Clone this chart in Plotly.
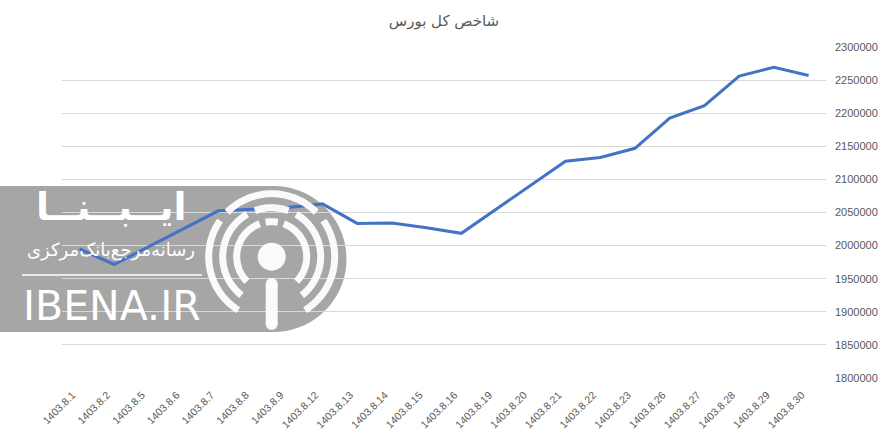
import math
import plotly.graph_objects as go

# ---- data ----
dates = ["1403.8.1", "1403.8.2", "1403.8.5", "1403.8.6", "1403.8.7", "1403.8.8",
         "1403.8.9", "1403.8.12", "1403.8.13", "1403.8.14", "1403.8.15", "1403.8.16",
         "1403.8.19", "1403.8.20", "1403.8.21", "1403.8.22", "1403.8.23", "1403.8.26",
         "1403.8.27", "1403.8.28", "1403.8.29", "1403.8.30"]
index_values = [1995000, 1971500, 1998500, 2025500, 2052500, 2055000,
                2057500, 2063000, 2033500, 2034000, 2027000, 2018500,
                2055000, 2091000, 2127500, 2133000, 2147000, 2192500,
                2211500, 2256000, 2269500, 2257000]
y_ticks = [1800000, 1850000, 1900000, 1950000, 2000000, 2050000,
           2100000, 2150000, 2200000, 2250000, 2300000]
title_text = "شاخص کل بورس"

# ---- layout geometry (pixels) ----
W, H = 890, 440
L, R, T, B = 62, 826, 47, 378
PW, PH = R - L, B - T


def px(x, y):
    return (x - L) / PW, (B - y) / PH


fig = go.Figure()
fig.add_trace(go.Scatter(x=dates, y=index_values, mode="lines",
                         line=dict(color="#4472C4", width=3), hoverinfo="x+y"))

shapes = []
annotations = []

# watermark background (grey stadium)
cx, cy, rr = 273.5, 259, 73
pts = [px(0, cy - rr), px(cx, cy - rr)]
for a in range(90, -91, -5):
    t = math.radians(a)
    pts.append(px(cx + rr * math.cos(t), cy - rr * math.sin(t)))
pts.append(px(0, cy + rr))
path = "M " + " L ".join(f"{x:.5f},{y:.5f}" for x, y in pts) + " Z"
shapes.append(dict(type="path", xref="paper", yref="paper", path=path,
                   fillcolor="#A6A6A6", line=dict(width=0), layer="between"))

# broadcast icon
ic_x, ic_y = 271.7, 256.7
rings = {
    63: [(-58, 35), (45, 135), (145, 238)],
    49: [(-52, 60), (70, 110), (120, 232)],
    35: [(-45, 70), (80, 100), (110, 225)],
}
for r, segs in rings.items():
    for a0, a1 in segs:
        p = []
        a = a0
        while a <= a1:
            t = math.radians(a)
            p.append(px(ic_x + r * math.cos(t), ic_y - r * math.sin(t)))
            a += 3
        t = math.radians(a1)
        p.append(px(ic_x + r * math.cos(t), ic_y - r * math.sin(t)))
        shapes.append(dict(type="path", xref="paper", yref="paper",
                           path="M " + " L ".join(f"{x:.5f},{y:.5f}" for x, y in p),
                           line=dict(color="white", width=7), opacity=0.95, layer="above"))
x0, y0 = px(ic_x - 14, ic_y + 14)
x1, y1 = px(ic_x + 14, ic_y - 14)
shapes.append(dict(type="circle", xref="paper", yref="paper", x0=x0, y0=y0, x1=x1, y1=y1,
                   fillcolor="white", line=dict(width=0), opacity=0.95, layer="above"))
sx0, sy0 = px(ic_x, 284)
sx1, sy1 = px(ic_x, 324)
shapes.append(dict(type="line", xref="paper", yref="paper", x0=sx0, y0=sy0, x1=sx1, y1=sy1,
                   line=dict(color="white", width=12), opacity=0.95, layer="above"))
for yy in (284, 324):
    a0x, a0y = px(ic_x - 6, yy + 6)
    a1x, a1y = px(ic_x + 6, yy - 6)
    shapes.append(dict(type="circle", xref="paper", yref="paper", x0=a0x, y0=a0y, x1=a1x, y1=a1y,
                       fillcolor="white", line=dict(width=0), opacity=0.95, layer="above"))
# separator
lx0, ly = px(22, 275)
lx1, _ = px(202, 275)
shapes.append(dict(type="line", xref="paper", yref="paper", x0=lx0, y0=ly, x1=lx1, y1=ly,
                   line=dict(color="white", width=1.5), layer="above"))

for text, (tx, ty), size, bold in [
    ("ایــبــنــا", (111, 207), 38, True),
    ("رسانه‌مرجع‌بانک‌مرکزی", (111, 250), 18, False),
    ("IBENA.IR", (112, 306), 41, False),
]:
    ax, ay = px(tx, ty)
    annotations.append(dict(xref="paper", yref="paper", x=ax, y=ay, text=f"<b>{text}</b>" if bold else text,
                            showarrow=False, xanchor="center", yanchor="middle",
                            font=dict(color="white", size=size, family="DejaVu Sans")))

fig.update_layout(
    width=W, height=H, autosize=False,
    margin=dict(l=L, r=W - R, t=T, b=H - B, autoexpand=False),
    paper_bgcolor="white", plot_bgcolor="white",
    showlegend=False,
    title=dict(text=title_text, x=(L + R) / 2 / W, xanchor="center", y=1 - 21 / H, yanchor="middle",
               font=dict(size=15, color="#595959", family="DejaVu Sans")),
    shapes=shapes, annotations=annotations,
)
fig.update_xaxes(type="category", range=[-0.5, len(dates) - 0.5], showgrid=False, showline=False,
                 zeroline=False, ticks="", tickangle=-45, ticklabelstandoff=8, ticklabelshift=-7,
                 automargin=False,
                 tickfont=dict(size=10.5, color="#595959", family="Liberation Sans"))
fig.update_yaxes(side="right", range=[y_ticks[0], y_ticks[-1]], tickvals=y_ticks,
                 ticktext=[str(v) for v in y_ticks], showgrid=True, gridcolor="#D9D9D9",
                 gridwidth=1, zeroline=False, showline=False, ticks="", ticklabelstandoff=8,
                 automargin=False,
                 tickfont=dict(size=11, color="#595959", family="Liberation Sans"))

fig.write_html("out.html", config={"displayModeBar": False},
               post_script="document.body.style.margin='0';document.body.style.overflow='hidden';")
